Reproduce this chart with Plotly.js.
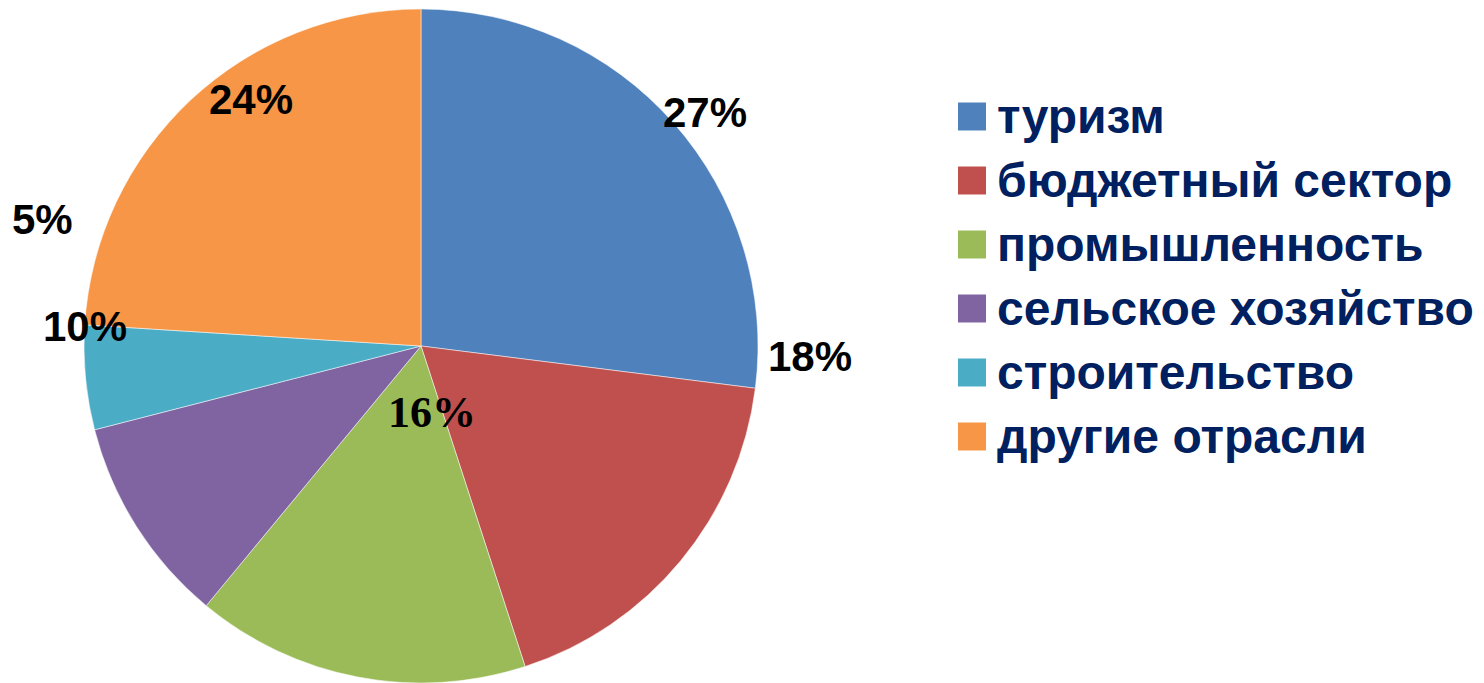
<!DOCTYPE html>
<html>
<head>
<meta charset="utf-8">
<script src="https://cdn.plot.ly/plotly-3.0.1.min.js"></script>
<style>html,body{margin:0;padding:0;background:#fff;}#chart{width:1484px;height:683px;}</style>
</head>
<body>
<div id="chart"></div>
<script>
// ---- data ----
var categories = ["туризм", "бюджетный сектор", "промышленность", "сельское хозяйство", "строительство", "другие отрасли"];
var shares = [27, 18, 16, 10, 5, 24];
var colors = ["#4F81BD", "#C0504D", "#9BBB59", "#8064A2", "#4BACC6", "#F79646"];

// ---- label placement style (radius factor, angle shift in degrees, font) ----
var labelRadius = [1.09, 1.154, 0.2, 1.0, 1.185, 0.89];
var labelShift = [2, -38, -20, 35.8, 23.8, 8.6];
var labelFont = ["Liberation Sans", "Liberation Sans", "Liberation Serif", "Liberation Sans", "Liberation Sans", "Liberation Sans"];
var labelSize = [42, 42, 44, 42, 42, 42];

var W = 1484, H = 683;
var cx = 421, cy = 346, R = 337;
var domX = [(cx - R) / W, (cx + R) / W];
var domY = [(H - (cy + R)) / H, (H - (cy - R)) / H];

var total = shares.reduce(function (a, b) { return a + b; }, 0);
var annotations = [];
var acc = 0;
shares.forEach(function (v, i) {
  var mid = (acc + v / 2) / total * 360;
  acc += v;
  var a = (mid + labelShift[i]) * Math.PI / 180;
  var px = cx + labelRadius[i] * R * Math.sin(a);
  var py = cy - labelRadius[i] * R * Math.cos(a);
  annotations.push({
    xref: "paper", yref: "paper", x: px / W, y: 1 - py / H,
    xanchor: "center", yanchor: "middle", showarrow: false,
    text: Math.round(v / total * 100) + "%",
    font: { family: labelFont[i], size: labelSize[i], color: "#000000", weight: "bold" }
  });
});

// custom legend with large swatches
var shapes = [];
var legX0 = 958, sw = 28, legY0 = 116.5, step = 64;
categories.forEach(function (c, i) {
  var yc = legY0 + i * step;
  shapes.push({
    type: "rect", xref: "paper", yref: "paper",
    x0: legX0 / W, x1: (legX0 + sw) / W,
    y0: 1 - (yc + sw / 2) / H, y1: 1 - (yc - sw / 2) / H,
    fillcolor: colors[i], line: { width: 0 }
  });
  annotations.push({
    xref: "paper", yref: "paper", x: 995 / W, y: 1 - (yc + 0) / H,
    xanchor: "left", yanchor: "middle", showarrow: false,
    text: c,
    font: { family: "Liberation Sans", size: 48, color: "#002060", weight: "bold" }
  });
});

var trace = {
  type: "pie",
  labels: categories,
  values: shares,
  marker: { colors: colors, line: { color: "#ffffff", width: 0.5 } },
  sort: false,
  direction: "clockwise",
  rotation: 0,
  textinfo: "none",
  hoverinfo: "label+percent",
  domain: { x: domX, y: domY },
  showlegend: false
};

var layout = {
  width: W, height: H,
  margin: { l: 0, r: 0, t: 0, b: 0 },
  paper_bgcolor: "#ffffff",
  showlegend: false,
  annotations: annotations,
  shapes: shapes
};

Plotly.newPlot("chart", [trace], layout, { displayModeBar: false, staticPlot: true });
</script>
</body>
</html>
